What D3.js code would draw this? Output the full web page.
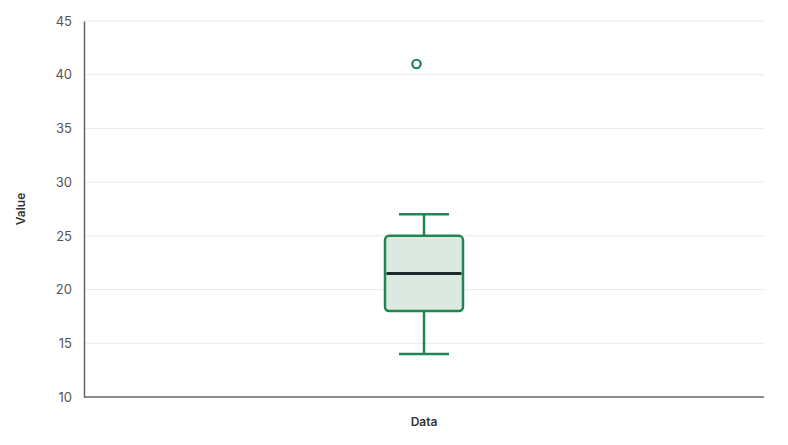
<!DOCTYPE html>
<html>
<head>
<meta charset="utf-8">
<script src="https://cdn.jsdelivr.net/npm/d3@7"></script>
<style>
  body { margin: 0; background: #fff; }
  svg text { font-family: Inter, "Inter Variable", "Open Sans", sans-serif; }
</style>
</head>
<body>
<div id="chart"></div>
<script>
const width = 788;
const height = 445;
const margin = ({top: 21, right: 24, bottom: 48, left: 84});

// box summary
const categories = ["Data"];
const whiskerLow = [14];
const q1 = [18];
const median = [21.5];
const q3 = [25];
const whiskerHigh = [27];
const outliers = [[41]];
const yTicks = [10, 15, 20, 25, 30, 35, 40, 45];

const green = "#1e8553";

const svg = d3.select("#chart").append("svg")
  .attr("width", width)
  .attr("height", height);

const x = d3.scaleBand()
  .domain(categories)
  .range([margin.left, width - margin.right])
  .paddingInner(0.1)
  .paddingOuter(0.444);

const y = d3.scaleLinear()
  .domain([10, 45])
  .range([height - margin.bottom, margin.top]);

// gridlines
svg.append("g")
  .selectAll("line")
  .data(yTicks.slice(1))
  .join("line")
    .attr("x1", margin.left)
    .attr("x2", width - margin.right)
    .attr("y1", d => y(d))
    .attr("y2", d => y(d))
    .attr("stroke", "#ebebeb")
    .attr("stroke-width", 1);

const yAxis = g => g
  .attr("transform", `translate(${margin.left},0)`)
  .call(d3.axisLeft(y).tickValues(yTicks).tickSize(0).tickPadding(12))
  .call(g => g.select(".domain").attr("stroke", "#666").attr("stroke-width", 1.5))
  .call(g => g.selectAll("text").attr("fill", "#555").attr("font-size", 13)
    .attr("font-family", null));

const xAxis = g => g
  .attr("transform", `translate(0,${height - margin.bottom})`)
  .call(d3.axisBottom(x).tickSize(0).tickFormat(""))
  .call(g => g.select(".domain").attr("stroke", "#666").attr("stroke-width", 1.5)
    .attr("d", `M${margin.left},0H${width - margin.right}`));

svg.append("g").call(xAxis);
svg.append("g").call(yAxis).attr("font-family", null);

// axis titles
svg.append("text")
  .attr("x", x(categories[0]) + x.bandwidth() / 2)
  .attr("y", height - 19)
  .attr("text-anchor", "middle")
  .attr("font-size", 12)
  .attr("font-weight", 600)
  .attr("fill", "#333")
  .text("Data");

svg.append("text")
  .attr("transform", `translate(25,${(margin.top + height - margin.bottom) / 2}) rotate(-90)`)
  .attr("text-anchor", "middle")
  .attr("font-size", 12)
  .attr("font-weight", 600)
  .attr("fill", "#333")
  .text("Value");

const boxW = 78;
const capW = 50;

const boxes = svg.append("g")
  .selectAll("g")
  .data(categories.map((c, i) => ({c, lo: whiskerLow[i], q1: q1[i], med: median[i], q3: q3[i], hi: whiskerHigh[i], out: outliers[i]})))
  .join("g")
    .attr("transform", d => `translate(${x(d.c) + x.bandwidth() / 2},0)`);

// whiskers
boxes.append("line")
  .attr("y1", d => y(d.lo)).attr("y2", d => y(d.q1))
  .attr("stroke", green).attr("stroke-width", 2.5);
boxes.append("line")
  .attr("y1", d => y(d.q3)).attr("y2", d => y(d.hi))
  .attr("stroke", green).attr("stroke-width", 2.5);
boxes.append("line")
  .attr("x1", -capW / 2).attr("x2", capW / 2)
  .attr("y1", d => y(d.lo)).attr("y2", d => y(d.lo))
  .attr("stroke", green).attr("stroke-width", 2.5);
boxes.append("line")
  .attr("x1", -capW / 2).attr("x2", capW / 2)
  .attr("y1", d => y(d.hi)).attr("y2", d => y(d.hi))
  .attr("stroke", green).attr("stroke-width", 2.5);

// box
boxes.append("rect")
  .attr("x", -boxW / 2)
  .attr("width", boxW)
  .attr("y", d => y(d.q3))
  .attr("height", d => y(d.q1) - y(d.q3))
  .attr("rx", 4)
  .attr("fill", "#dce9e1")
  .attr("stroke", green)
  .attr("stroke-width", 2.5);

// median
boxes.append("line")
  .attr("x1", -boxW / 2 + 1.5).attr("x2", boxW / 2 - 1.5)
  .attr("y1", d => y(d.med)).attr("y2", d => y(d.med))
  .attr("stroke", "#1f2a2a").attr("stroke-width", 3);

// outliers (drawn slightly left of centre, as in the original)
boxes.selectAll("circle")
  .data(d => d.out)
  .join("circle")
    .attr("cx", -7.5)
    .attr("cy", d => y(d))
    .attr("r", 4.2)
    .attr("fill", "#fff")
    .attr("stroke", green)
    .attr("stroke-width", 2.2);
</script>
</body>
</html>
